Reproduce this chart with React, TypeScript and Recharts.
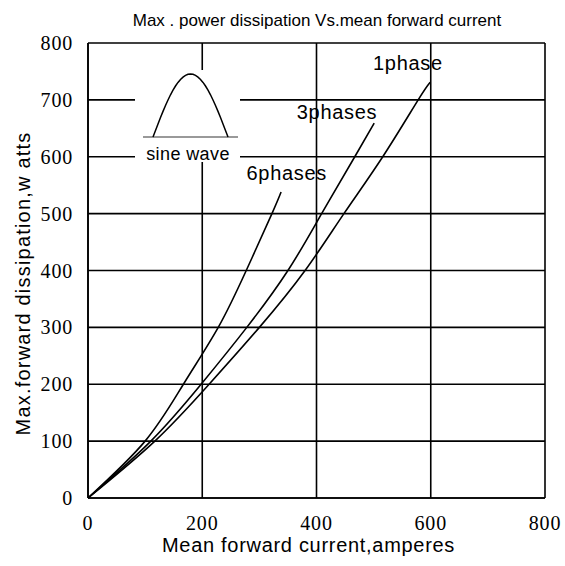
import React from 'react';
import {
	LineChart,
	Line,
	XAxis,
	YAxis,
	CartesianGrid,
	ReferenceDot,
	Customized,
	Label,
} from 'recharts';

const xTicks = [0, 200, 400, 600, 800];
const yTicks = [0, 100, 200, 300, 400, 500, 600, 700, 800];

// readings (amperes, watts)
const onePhase = [
	{ i: 0, p: 0 },
	{ i: 117, p: 100 },
	{ i: 212, p: 200 },
	{ i: 300, p: 300 },
	{ i: 380, p: 400 },
	{ i: 448, p: 500 },
	{ i: 516, p: 600 },
	{ i: 578, p: 700 },
	{ i: 599, p: 731 },
];
const threePhases = [
	{ i: 0, p: 0 },
	{ i: 110, p: 100 },
	{ i: 198, p: 200 },
	{ i: 278, p: 300 },
	{ i: 350, p: 400 },
	{ i: 409, p: 500 },
	{ i: 467, p: 600 },
	{ i: 501, p: 659 },
];
const sixPhases = [
	{ i: 0, p: 0 },
	{ i: 100, p: 100 },
	{ i: 167, p: 200 },
	{ i: 228, p: 300 },
	{ i: 277, p: 400 },
	{ i: 322, p: 500 },
	{ i: 338, p: 538 },
];

const curveLabels = [
	{ name: '1phase', i: 560, p: 765 },
	{ name: '3phases', i: 436, p: 678 },
	{ name: '6phases', i: 348, p: 571 },
];

const SANS = 'Liberation Sans';
const SERIF = 'Liberation Serif';

const W = 565;
const H = 566;

const XTick = ({ x, y, payload }: any) => (
	<text
		x={x}
		y={y + 19}
		textAnchor="middle"
		dominantBaseline="central"
		style={{ fontFamily: SERIF, fontSize: 20, letterSpacing: 0.8 }}
		fill="#000"
	>
		{payload.value}
	</text>
);

const YTick = ({ x, y, payload }: any) => (
	<text
		x={x - 9}
		y={y}
		textAnchor="end"
		dominantBaseline="central"
		style={{ fontFamily: SERIF, fontSize: 20, letterSpacing: 0.8 }}
		fill="#000"
	>
		{payload.value}
	</text>
);

const curveLabel = (name: string) => (props: any) => {
	const vb = props.viewBox || {};
	return (
		<text
			x={vb.x}
			y={vb.y}
			textAnchor="middle"
			dominantBaseline="central"
			style={{ fontFamily: SANS, fontSize: 20, letterSpacing: 0.7 }}
			fill="#000"
		>
			{name}
		</text>
	);
};

// small "sine wave" inset drawn over the grid, plus the title
const Extras = () => {
	const pts: string[] = [];
	for (let k = 0; k <= 30; k++) {
		const x = 153 + (75 * k) / 30;
		const y = 137 - 63 * Math.sin((Math.PI * k) / 30);
		pts.push(`${k === 0 ? 'M' : 'L'}${x.toFixed(1)},${y.toFixed(1)}`);
	}
	return (
		<g>
			<text
				x={317}
				y={20}
				textAnchor="middle"
				dominantBaseline="central"
				style={{ fontFamily: SANS, fontSize: 17 }}
				fill="#000"
			>
				Max . power dissipation Vs.mean forward current
			</text>
			<rect x={135} y={70} width={105} height={92} fill="#fff" />
			<line x1={143} y1={137} x2={238} y2={137} stroke="#777" strokeWidth={1.5} />
			<path d={pts.join('')} fill="none" stroke="#000" strokeWidth={1.5} />
			<text
				x={188}
				y={154}
				textAnchor="middle"
				dominantBaseline="central"
				style={{ fontFamily: SANS, fontSize: 18, letterSpacing: 0.4 }}
				fill="#000"
			>
				sine wave
			</text>
		</g>
	);
};

export default function App() {
	return (
		<div style={{ position: 'absolute', left: 0, top: 0, width: W, height: H, background: '#fff', fontFamily: SANS }}>
			<LineChart width={W} height={H} margin={{ top: 43, right: 20, left: 0, bottom: 0 }}>
				<CartesianGrid stroke="#000" strokeWidth={1.6} />
				<XAxis
					type="number"
					dataKey="i"
					domain={[0, 800]}
					ticks={xTicks}
					height={68}
					tickLine={false}
					axisLine={{ stroke: '#000', strokeWidth: 1.6 }}
					tickMargin={0}
					tick={<XTick />}
					allowDataOverflow
				>
					<Label
						content={({ viewBox }: any) => {
							const cx = viewBox.x + viewBox.width / 2 - 8;
							return (
								<text
									x={cx}
									y={545}
									textAnchor="middle"
									dominantBaseline="central"
									style={{ fontFamily: SANS, fontSize: 20, letterSpacing: 0.7 }}
									fill="#000"
								>
									Mean forward current,amperes
								</text>
							);
						}}
					/>
				</XAxis>
				<YAxis
					type="number"
					domain={[0, 800]}
					ticks={yTicks}
					width={88}
					tickLine={false}
					axisLine={{ stroke: '#000', strokeWidth: 1.6 }}
					tickMargin={0}
					tick={<YTick />}
				>
					<Label
						content={({ viewBox }: any) => {
							const cx = 23;
							const cy = viewBox.y + viewBox.height / 2 + 13;
							return (
								<text
									x={cx}
									y={cy}
									transform={`rotate(-90 ${cx} ${cy})`}
									textAnchor="middle"
									dominantBaseline="central"
									style={{ fontFamily: SANS, fontSize: 20, letterSpacing: 1.2 }}
									fill="#000"
								>
									Max.forward dissipation,w atts
								</text>
							);
						}}
					/>
				</YAxis>
				<Customized component={Extras} />
				<Line data={onePhase} dataKey="p" type="natural" stroke="#000" strokeWidth={1.6} dot={false} isAnimationActive={false} />
				<Line data={threePhases} dataKey="p" type="natural" stroke="#000" strokeWidth={1.6} dot={false} isAnimationActive={false} />
				<Line data={sixPhases} dataKey="p" type="natural" stroke="#000" strokeWidth={1.6} dot={false} isAnimationActive={false} />
				{curveLabels.map((c) => (
					<ReferenceDot
						key={c.name}
						x={c.i}
						y={c.p}
						r={0}
						stroke="none"
						fill="none"
						label={curveLabel(c.name)}
					/>
				))}
			</LineChart>
		</div>
	);
}
